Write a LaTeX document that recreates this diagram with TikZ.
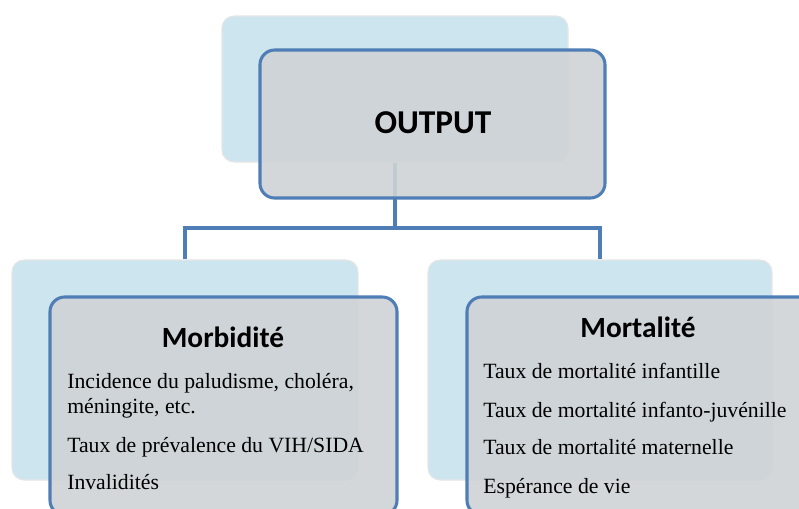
\documentclass[tikz,border=0pt]{standalone}
\usepackage{fontspec}
\setmainfont{Liberation Serif}
\newfontfamily\headfont{Carlito}
\usepackage{tikz}
\definecolor{backblue}{HTML}{CDE5EE}
\definecolor{frontgray}{HTML}{CFD3D6}
\definecolor{edgeblue}{HTML}{4F7DB5}

\begin{document}
\begin{tikzpicture}[x=0.75pt, y=-0.75pt,
    backbox/.style={draw=gray!20, line width=0.8pt, fill=backblue, rounded corners=9pt, inner sep=0pt},
    frontbox/.style={draw=edgeblue, line width=2.3pt, fill=frontgray, fill opacity=0.9, text opacity=1, rounded corners=11pt, inner sep=0pt},
    link/.style={draw=edgeblue, line width=3pt},
    title/.style={font=\headfont\bfseries\fontsize{22}{26}\selectfont, anchor=base},
    item/.style={font=\fontsize{16.3}{19}\selectfont, anchor=base west, inner sep=0pt}]
    \useasboundingbox (0,0) rectangle (799,508);

    % Back boxes
    \node[backbox, minimum width=259.5pt, minimum height=109.5pt] (outback) at (395,89) {};
    \node[backbox, minimum width=259.5pt, minimum height=165pt] (morbback) at (185,370) {};
    \node[backbox, minimum width=258pt, minimum height=165pt] (mortback) at (600,370) {};

    % Connectors
    \coordinate (split) at (395,228);
    \draw[link] (outback.south) -- (split) -| (morbback.north);
    \draw[link] (split) -| (mortback.north);

    % Front boxes
    \node[frontbox, minimum width=258.75pt, minimum height=111pt] (out) at (432.5,124) {};
    \node[frontbox, minimum width=260.25pt, minimum height=163.5pt] (morb) at (223.5,406) {};
    \node[frontbox, minimum width=260.25pt, minimum height=163.5pt] (mort) at (640.5,406) {};

    % Titles
    \node[title, font=\headfont\bfseries\fontsize{25}{29}\selectfont] (outtitle) at (433,133) {OUTPUT};
    \node[title] (morbtitle) at (223,347) {Morbidité};
    \node[title] (morttitle) at (638,337) {Mortalité};

    % Morbidité items
    \node[item] (morb1) at (67,388) {Incidence du paludisme, choléra,};
    \node[item] (morb2) at (67,413) {méningite, etc.};
    \node[item] (morb3) at (67,452) {Taux de prévalence du VIH/SIDA};
    \node[item] (morb4) at (67,489) {Invalidités};

    % Mortalité items
    \node[item] (mort1) at (483,378) {Taux de mortalité infantille};
    \node[item] (mort2) at (483,417) {Taux de mortalité infanto-juvénille};
    \node[item] (mort3) at (483,454) {Taux de mortalité maternelle};
    \node[item] (mort4) at (483,493) {Espérance de vie};
\end{tikzpicture}
\end{document}
